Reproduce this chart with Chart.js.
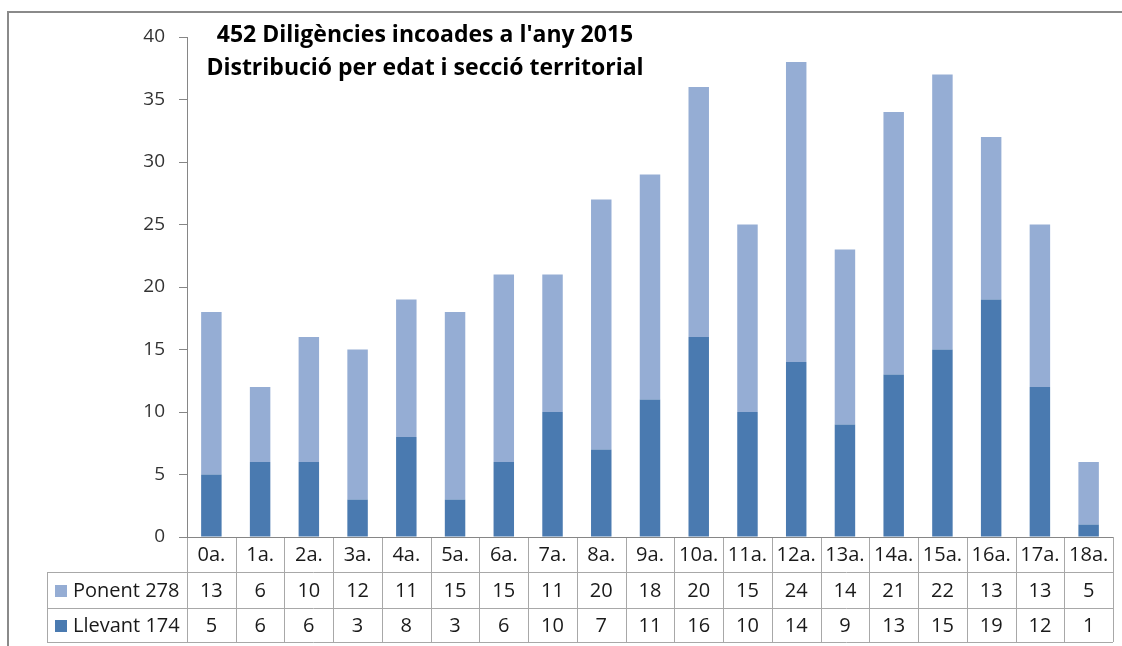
<!DOCTYPE html>
<html>
<head>
<meta charset="utf-8">
<script src="https://cdn.jsdelivr.net/npm/chart.js@4"></script>
<style>
  html, body { margin: 0; padding: 0; background: #fff; }
  #wrap { width: 1122px; height: 646px; position: relative; }
</style>
</head>
<body>
<div id="wrap"><canvas id="myChart"></canvas></div>
<script>
// categories (edat)
const ages = ['0a.', '1a.', '2a.', '3a.', '4a.', '5a.', '6a.', '7a.', '8a.', '9a.', '10a.', '11a.', '12a.', '13a.', '14a.', '15a.', '16a.', '17a.', '18a.'];
// seccio Ponent
const ponent = [13, 6, 10, 12, 11, 15, 15, 11, 20, 18, 20, 15, 24, 14, 21, 22, 13, 13, 5];
// seccio Llevant
const llevant = [5, 6, 6, 3, 8, 3, 6, 10, 7, 11, 16, 10, 14, 9, 13, 15, 19, 12, 1];
const seriesNames = ['Ponent 278', 'Llevant 174'];
const titleLines = ["452 Diligències incoades a l'any 2015", "Distribució per edat i secció territorial"];

const ponentColor = '#95ADD4';
const llevantColor = '#4A7AB0';
const fontFam = '"Open Sans", "Liberation Sans", sans-serif';

// draws the outer frame, the title and the data table under the bars
const tablePlugin = {
	id: 'tablePlugin',
	afterDraw(chart) {
		const ctx = chart.ctx;
		const area = chart.chartArea;
		const x = chart.scales.x;
		const colW = (area.right - area.left) / ages.length;
		const rowTop = area.bottom;
		const row1 = rowTop + 35, row2 = row1 + 36, row3 = row2 + 34;
		const legLeft = 47;
		ctx.save();
		// outer frame
		ctx.strokeStyle = '#8a8a8a';
		ctx.lineWidth = 2;
		ctx.strokeRect(8, 12, 1300, 1000);
		// table lines
		ctx.strokeStyle = '#a8a8a8';
		ctx.lineWidth = 1;
		ctx.beginPath();
		for (let i = 0; i <= ages.length; i++) {
			const px = Math.round(area.left + i * colW) + 0.5;
			ctx.moveTo(px, rowTop);
			ctx.lineTo(px, row3);
		}
		[row1, row2, row3].forEach(function (y) {
			ctx.moveTo(legLeft, y + 0.5);
			ctx.lineTo(area.right, y + 0.5);
		});
		ctx.moveTo(legLeft + 0.5, row1);
		ctx.lineTo(legLeft + 0.5, row3);
		ctx.stroke();
		// x axis line
		ctx.strokeStyle = '#868686';
		ctx.beginPath();
		ctx.moveTo(area.left - 8, rowTop + 0.5);
		ctx.lineTo(area.right, rowTop + 0.5);
		ctx.stroke();
		// texts
		ctx.fillStyle = '#1a1a1a';
		ctx.font = '20px ' + fontFam;
		ctx.textAlign = 'center';
		ctx.textBaseline = 'middle';
		for (let i = 0; i < ages.length; i++) {
			const cx = x.getPixelForValue(i);
			ctx.fillText(ages[i], cx, (rowTop + row1) / 2 + 1);
			ctx.fillText(String(ponent[i]), cx, (row1 + row2) / 2 + 1);
			ctx.fillText(String(llevant[i]), cx, (row2 + row3) / 2 + 1);
		}
		// legend keys
		ctx.textAlign = 'left';
		ctx.fillStyle = ponentColor;
		ctx.fillRect(55, (row1 + row2) / 2 - 5, 12, 12);
		ctx.fillStyle = llevantColor;
		ctx.fillRect(55, (row2 + row3) / 2 - 5, 12, 12);
		ctx.fillStyle = '#1a1a1a';
		ctx.fillText(seriesNames[0], 73, (row1 + row2) / 2 + 1);
		ctx.fillText(seriesNames[1], 73, (row2 + row3) / 2 + 1);
		// title
		ctx.font = 'bold 23px ' + fontFam;
		ctx.textAlign = 'center';
		ctx.fillStyle = '#000';
		ctx.fillText(titleLines[0], 425, 35);
		ctx.fillText(titleLines[1], 425, 68);
		ctx.restore();
	}
};

const ctx = document.getElementById('myChart');
const myChart = new Chart(ctx, {
	type: 'bar',
	data: {
		labels: ages,
		datasets: [
			{
				label: 'Llevant 174',
				data: llevant,
				backgroundColor: llevantColor,
				borderWidth: 0,
				barPercentage: 0.42,
				categoryPercentage: 1.0
			},
			{
				label: 'Ponent 278',
				data: ponent,
				backgroundColor: ponentColor,
				borderWidth: 0,
				barPercentage: 0.42,
				categoryPercentage: 1.0
			}
		]
	},
	options: {
		responsive: true,
		maintainAspectRatio: false,
		animation: false,
		layout: {
			padding: { left: 0, right: 9, top: 37, bottom: 109 }
		},
		plugins: {
			legend: { display: false },
			title: { display: false },
			tooltip: { enabled: false }
		},
		scales: {
			x: {
				stacked: true,
				display: false
			},
			y: {
				stacked: true,
				min: 0,
				max: 40,
				afterFit: function (scale) { scale.width = 187; },
				ticks: {
					stepSize: 5,
					padding: 14,
					color: '#333333',
					font: { family: fontFam, size: 19 }
				},
				grid: {
					display: true,
					drawOnChartArea: false,
					drawTicks: true,
					tickLength: 8,
					color: '#868686'
				},
				border: { display: true, color: '#868686' }
			}
		}
	},
	plugins: [tablePlugin]
});
</script>
</body>
</html>
